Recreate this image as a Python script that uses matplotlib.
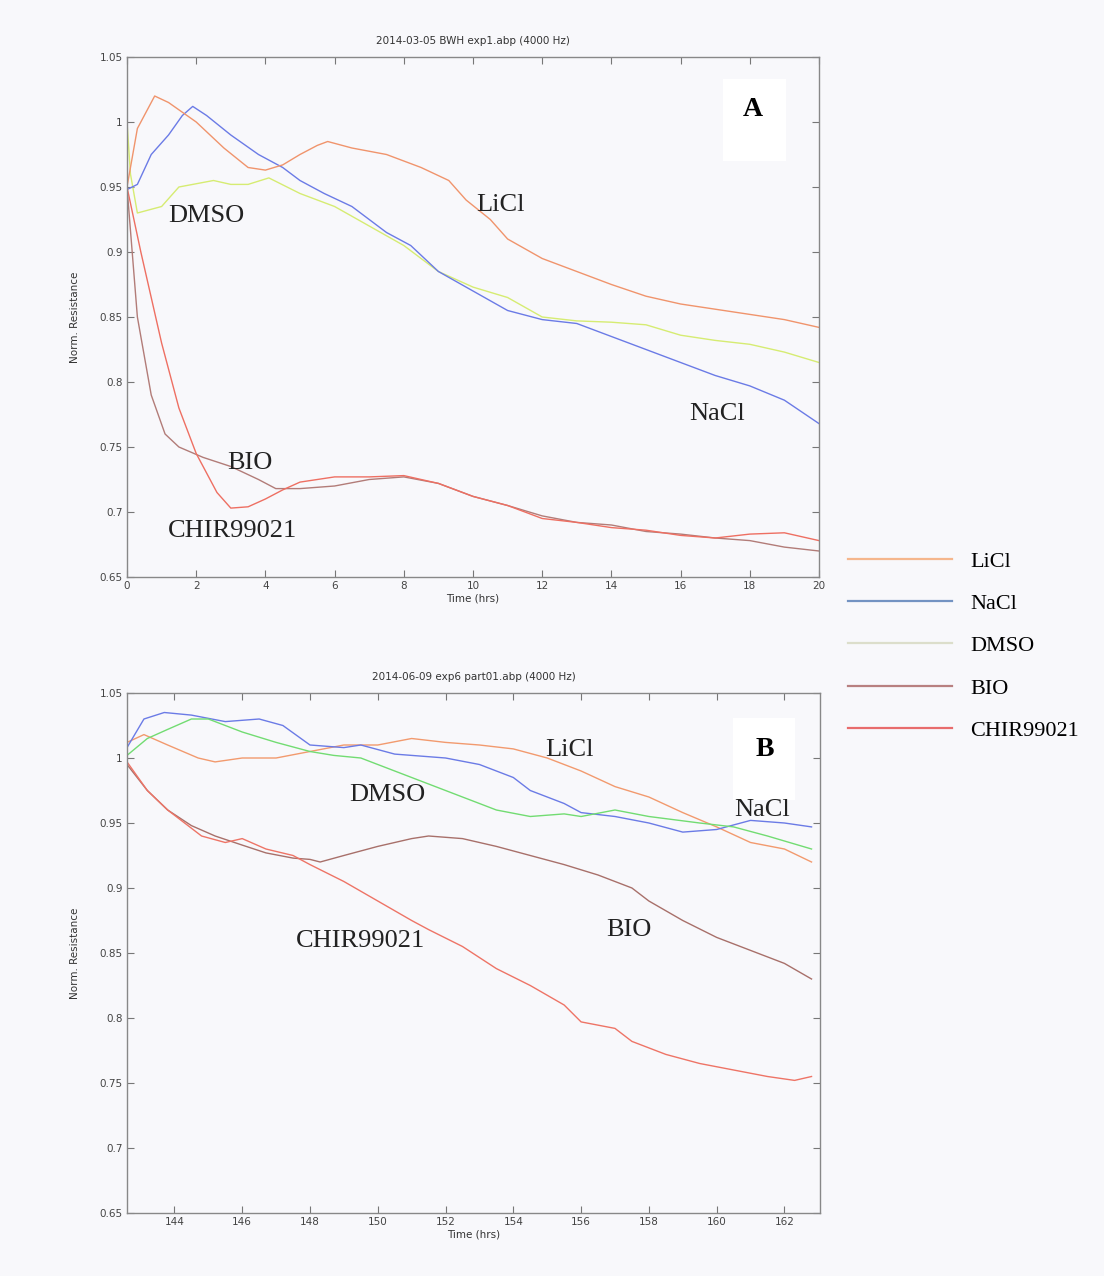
import matplotlib
matplotlib.use("Agg")
import matplotlib.pyplot as plt
from matplotlib.lines import Line2D
import numpy as np

# ---------------- Panel A data (Time in hrs, normalized resistance) -------------
a_licl_t = [0, 0.3, 0.8, 1.2, 2.0, 2.8, 3.5, 4.0, 4.5, 5.0, 5.5, 5.8, 6.5, 7.5, 8.5,
            9.3, 9.8, 10.5, 11, 12, 13, 14, 15, 16, 17, 18, 19, 20]
a_licl_v = [0.95, 0.995, 1.02, 1.015, 1.0, 0.98, 0.965, 0.963, 0.967, 0.975, 0.982,
            0.985, 0.98, 0.975, 0.965, 0.955, 0.94, 0.925, 0.91, 0.895, 0.885, 0.875,
            0.866, 0.86, 0.856, 0.852, 0.848, 0.842]

a_nacl_t = [0, 0.3, 0.7, 1.2, 1.6, 1.9, 2.3, 3.0, 3.8, 4.5, 5.0, 5.7, 6.5, 7.5, 8.2,
            9, 10, 11, 12, 13, 14, 15, 16, 17, 18, 19, 20]
a_nacl_v = [0.948, 0.952, 0.975, 0.99, 1.005, 1.012, 1.005, 0.99, 0.975, 0.965, 0.955,
            0.945, 0.935, 0.915, 0.905, 0.885, 0.87, 0.855, 0.848, 0.845, 0.835, 0.825,
            0.815, 0.805, 0.797, 0.786, 0.768]

a_dmso_t = [0, 0.1, 0.3, 1.0, 1.5, 2.5, 3.0, 3.5, 4.1, 5.0, 6.0, 7.0, 8.0, 9, 10, 11,
            12, 13, 14, 15, 16, 17, 18, 19, 20]
a_dmso_v = [1.0, 0.96, 0.93, 0.935, 0.95, 0.955, 0.952, 0.952, 0.957, 0.945, 0.935,
            0.92, 0.905, 0.885, 0.873, 0.865, 0.85, 0.847, 0.846, 0.844, 0.836, 0.832,
            0.829, 0.823, 0.815]

a_bio_t = [0, 0.3, 0.7, 1.1, 1.5, 2.2, 3.0, 3.8, 4.3, 5, 6, 7, 8, 9, 10, 11, 12, 13,
           14, 15, 16, 17, 18, 19, 20]
a_bio_v = [0.95, 0.85, 0.79, 0.76, 0.75, 0.742, 0.735, 0.725, 0.718, 0.718, 0.72,
           0.725, 0.727, 0.722, 0.712, 0.705, 0.697, 0.692, 0.69, 0.685, 0.683, 0.68,
           0.678, 0.673, 0.67]

a_chir_t = [0, 0.4, 1.0, 1.5, 2.0, 2.6, 3.0, 3.5, 4.0, 4.5, 5, 6, 7, 8, 9, 10, 11, 12,
            13, 14, 15, 16, 17, 18, 19, 20]
a_chir_v = [0.95, 0.9, 0.83, 0.78, 0.745, 0.715, 0.703, 0.704, 0.71, 0.717, 0.723,
            0.727, 0.727, 0.728, 0.722, 0.712, 0.705, 0.695, 0.692, 0.688, 0.686,
            0.682, 0.68, 0.683, 0.684, 0.678]

# ---------------- Panel B data ----------------
b_licl_t = [142.6, 143.1, 143.8, 144.7, 145.2, 146, 147, 148, 149, 150, 151, 152, 153,
            154, 155, 156, 157, 158, 159, 160, 161, 162, 162.8]
b_licl_v = [1.012, 1.018, 1.01, 1.0, 0.997, 1.0, 1.0, 1.005, 1.01, 1.01, 1.015, 1.012,
            1.01, 1.007, 1.0, 0.99, 0.978, 0.97, 0.958, 0.947, 0.935, 0.93, 0.92]

b_nacl_t = [142.6, 143.1, 143.7, 144.5, 145.5, 146.5, 147.2, 148, 149, 149.5, 150.5,
            152, 153, 154, 154.5, 155.5, 156, 157, 158, 159, 160, 161, 162, 162.8]
b_nacl_v = [1.008, 1.03, 1.035, 1.033, 1.028, 1.03, 1.025, 1.01, 1.008, 1.01, 1.003,
            1.0, 0.995, 0.985, 0.975, 0.965, 0.958, 0.955, 0.95, 0.943, 0.945, 0.952,
            0.95, 0.947]

b_dmso_t = [142.6, 143.2, 143.8, 144.5, 145, 146, 147, 148, 148.7, 149.5, 150.5, 151.5,
            152.5, 153.5, 154.5, 155.5, 156, 157, 158, 159.5, 160.5, 161.5, 162.8]
b_dmso_v = [1.002, 1.015, 1.022, 1.03, 1.03, 1.02, 1.012, 1.005, 1.002, 1.0, 0.99,
            0.98, 0.97, 0.96, 0.955, 0.957, 0.955, 0.96, 0.955, 0.95, 0.947, 0.94, 0.93]

b_bio_t = [142.6, 143.2, 143.8, 144.5, 145.2, 146, 146.7, 147.5, 148, 148.3, 149, 150,
           151, 151.5, 152.5, 153.5, 154.5, 155.5, 156.5, 157.5, 158, 159, 160, 161,
           162, 162.8]
b_bio_v = [0.995, 0.975, 0.96, 0.948, 0.94, 0.933, 0.927, 0.923, 0.922, 0.92, 0.925,
           0.932, 0.938, 0.94, 0.938, 0.932, 0.925, 0.918, 0.91, 0.9, 0.89, 0.875,
           0.862, 0.852, 0.842, 0.83]

b_chir_t = [142.6, 143.2, 143.8, 144.3, 144.8, 145.5, 146, 146.7, 147.5, 148, 149, 150,
            151, 151.5, 152.5, 153.5, 154.5, 155.5, 156, 157, 157.5, 158.5, 159.5,
            160.5, 161.5, 162.3, 162.8]
b_chir_v = [0.997, 0.975, 0.96, 0.95, 0.94, 0.935, 0.938, 0.93, 0.925, 0.918, 0.905,
            0.89, 0.875, 0.868, 0.855, 0.838, 0.825, 0.81, 0.797, 0.792, 0.782, 0.772,
            0.765, 0.76, 0.755, 0.752, 0.755]

series_names = ["LiCl", "NaCl", "DMSO", "BIO", "CHIR99021"]
legend_colors = ["#f5b68c", "#7393c2", "#dcdecb", "#b88080", "#e86c6c"]

a_titles = "2014-03-05 BWH exp1.abp (4000 Hz)"
b_titles = "2014-06-09 exp6 part01.abp (4000 Hz)"
a_xticks = list(range(0, 21, 2))
b_xticks = list(range(144, 163, 2))
yticks = [0.65, 0.7, 0.75, 0.8, 0.85, 0.9, 0.95, 1.0, 1.05]
ytick_labels = ["0.65", "0.7", "0.75", "0.8", "0.85", "0.9", "0.95", "1", "1.05"]

BG = "#f8f8fb"
fig = plt.figure(figsize=(11.04, 12.76), dpi=100, facecolor=BG)

axA = fig.add_axes([127/1104, 1-577/1276, 692/1104, 520/1276])
axB = fig.add_axes([127/1104, 1-1213/1276, 693/1104, 520/1276])

colA = {"LiCl": "#f0946c", "NaCl": "#6b7be6", "DMSO": "#d6ec72",
        "BIO": "#b27c78", "CHIR99021": "#ee6f62"}
colB = {"LiCl": "#f29a6e", "NaCl": "#6b7be6", "DMSO": "#72dc72",
        "BIO": "#a8706a", "CHIR99021": "#ee7466"}

lw = 1.0
axA.plot(a_dmso_t, a_dmso_v, color=colA["DMSO"], lw=lw)
axA.plot(a_nacl_t, a_nacl_v, color=colA["NaCl"], lw=lw)
axA.plot(a_licl_t, a_licl_v, color=colA["LiCl"], lw=lw)
axA.plot(a_bio_t, a_bio_v, color=colA["BIO"], lw=lw)
axA.plot(a_chir_t, a_chir_v, color=colA["CHIR99021"], lw=lw)

axB.plot(b_licl_t, b_licl_v, color=colB["LiCl"], lw=lw)
axB.plot(b_nacl_t, b_nacl_v, color=colB["NaCl"], lw=lw)
axB.plot(b_dmso_t, b_dmso_v, color=colB["DMSO"], lw=lw)
axB.plot(b_bio_t, b_bio_v, color=colB["BIO"], lw=lw)
axB.plot(b_chir_t, b_chir_v, color=colB["CHIR99021"], lw=lw)

tick_font = dict(family="DejaVu Sans", size=7.5, color="#444444")
for ax, xt, xl, title in [(axA, a_xticks, (0, 20), a_titles),
                          (axB, b_xticks, (142.6, 163.05), b_titles)]:
    ax.set_facecolor(BG)
    ax.set_xlim(*xl)
    ax.set_ylim(0.65, 1.05)
    ax.set_xticks(xt)
    ax.set_xticklabels([str(v) for v in xt], fontdict=tick_font)
    ax.set_yticks(yticks)
    ax.set_yticklabels(ytick_labels, fontdict=tick_font)
    ax.tick_params(direction="in", top=True, right=True, length=5, width=0.8,
                   color="#777777", pad=3)
    for s in ax.spines.values():
        s.set_color("#888888")
        s.set_linewidth(1.0)
    ax.set_title(title, fontsize=7.5, color="#333333", pad=9)
    ax.set_xlabel("Time (hrs)", fontsize=7.5, color="#333333", labelpad=2)
    ax.set_ylabel("Norm. Resistance", fontsize=7.5, color="#333333", labelpad=14)

serif = "Liberation Serif"
ann = dict(family=serif, size=19, color="#222222", ha="center", va="center",
           zorder=6)
axA.text(2.3, 0.928, "DMSO", **ann)
axA.text(10.8, 0.936, "LiCl", **ann)
axA.text(17.06, 0.775, "NaCl", **ann)
axA.text(3.55, 0.738, "BIO", **ann)
axA.text(3.05, 0.685, "CHIR99021", **ann)

axB.text(155.65, 1.006, "LiCl", **ann)
axB.text(150.28, 0.9715, "DMSO", **ann)
axB.text(161.35, 0.960, "NaCl", **ann)
axB.text(157.4, 0.868, "BIO", **ann)
axB.text(149.5, 0.859, "CHIR99021", **ann)

# panel letters in white boxes
axA.add_patch(plt.Rectangle((723/1104, 1-161/1276), 63/1104, 82/1276,
                            transform=fig.transFigure, facecolor="white",
                            edgecolor="none", zorder=4, clip_on=False))
axA.text(753/1104, 1-110/1276, "A", family=serif, weight="bold", size=20,
         ha="center", va="center", zorder=6, transform=fig.transFigure)
axB.add_patch(plt.Rectangle((733/1104, 1-800/1276), 62/1104, 82/1276,
                            transform=fig.transFigure, facecolor="white",
                            edgecolor="none", zorder=4, clip_on=False))
axB.text(765/1104, 1-750/1276, "B", family=serif, weight="bold", size=20,
         ha="center", va="center", zorder=6, transform=fig.transFigure)

handles = [Line2D([], [], color=c, lw=1.6) for c in legend_colors]
fig.legend(handles, series_names, loc="center left",
           bbox_to_anchor=(828/1104, 1-646/1276), frameon=False,
           prop=dict(family=serif, size=16), handlelength=4.7,
           labelspacing=0.98, handletextpad=0.8)

fig.savefig("out.png", dpi=100, facecolor=BG)
